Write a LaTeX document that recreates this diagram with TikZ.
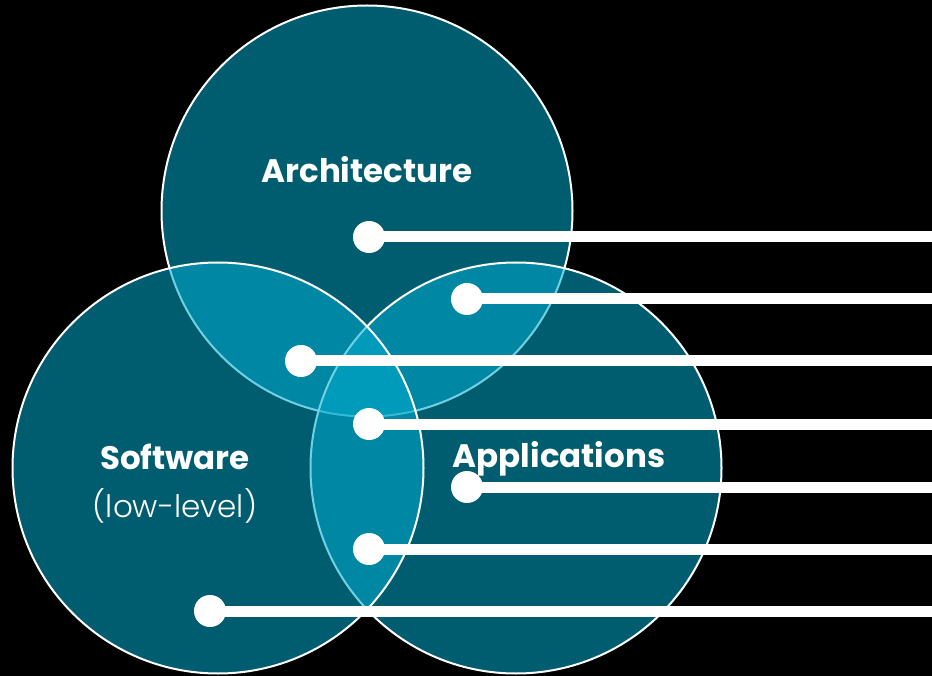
\documentclass[tikz,border=0pt]{standalone}
\usepackage{fontspec}
\setmainfont{Poppins}
\newfontfamily\lightfont{Poppins Light}
\usetikzlibrary{positioning}
\definecolor{venncyan}{RGB}{0,171,205}

\begin{document}
\begin{tikzpicture}[
    x=1pt, y=-1pt,
    set/.style={
        circle, draw=white, line width=2pt,
        fill=venncyan, fill opacity=0.55,
        minimum size=411pt, inner sep=0pt
    },
    setlabel/.style={
        text=white, inner sep=0pt,
        font=\fontsize{32.5}{38}\selectfont\bfseries
    },
    dot/.style={circle, fill=white, minimum size=32pt, inner sep=0pt},
    leader/.style={draw=white, line width=11pt}
]

% Background and page size
\fill[black] (0,0) rectangle (932,676);
\useasboundingbox (0,0) rectangle (932,676);

% Sets - drawn bottom to top
\node[set] (arch) at (367,211) {};
\node[set] (apps) at (516,468) {};
\node[set] (soft) at (218,468) {};

% Set labels
\node[setlabel] (archlabel) at (367,170) {Architecture};
\node[setlabel] (softlabel) at (175,457) {Software};
\node[setlabel, font=\fontsize{31}{36}\selectfont\lightfont, below=18pt of softlabel] (softnote) {(low-level)};
\node[setlabel] (appslabel) at (559,459) {Applications};

% Region markers
\node[dot] (d1) at (369,237) {};
\node[dot] (d2) at (467,299) {};
\node[dot] (d3) at (301,361) {};
\node[dot] (d4) at (369,424) {};
\node[dot] (d5) at (467,487) {};
\node[dot] (d6) at (369,549) {};
\node[dot] (d7) at (210,611) {};

% Leader lines to the right edge
\coordinate (edge) at (932,0);
\foreach \d in {d1,d2,d3,d4,d5,d6,d7}
    \draw[leader] (\d.center) -- (\d -| edge);

\end{tikzpicture}
\end{document}
